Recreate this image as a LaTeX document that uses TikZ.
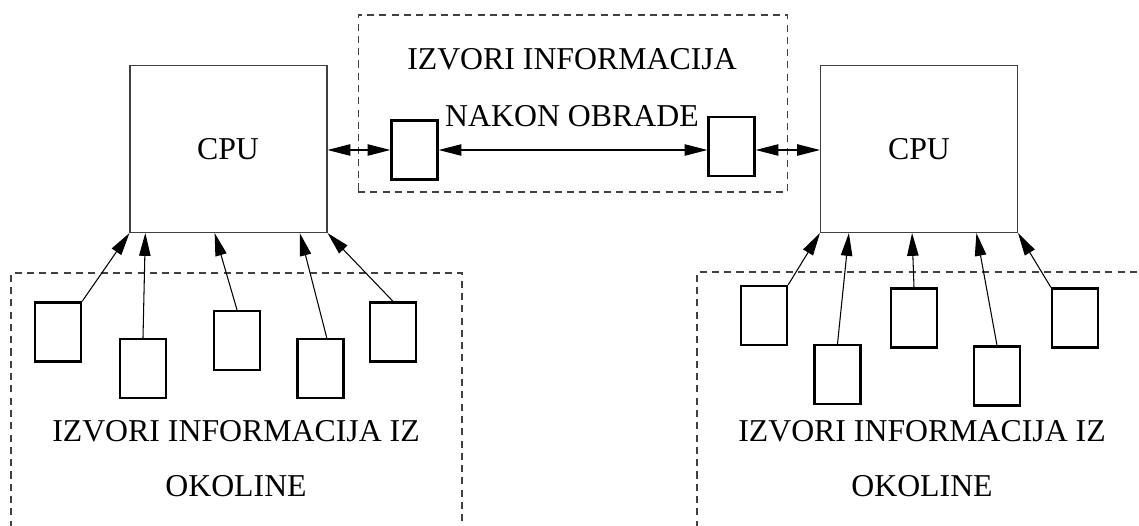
\documentclass[tikz,border=0pt]{standalone}
\usepackage{fontspec}
\setmainfont{Liberation Serif}
\usetikzlibrary{arrows.meta,calc}

\begin{document}
\begin{tikzpicture}[
  x=0.02cm, y=-0.02cm,
  cpunode/.style={rectangle, draw=black!75, line width=0.6pt, minimum width=3.94cm, minimum height=3.34cm},
  devnode/.style={rectangle, draw=black, line width=1.3pt, minimum width=0.92cm, minimum height=1.18cm, inner sep=0pt},
  framenode/.style={draw=black!75, line width=0.6pt, dash pattern=on 4pt off 3pt},
  txtnode/.style={font=\fontsize{18.1}{22}\selectfont, inner sep=0pt, anchor=base},
  arr/.style={-{Triangle[length=13pt,width=6.5pt]}, line width=0.6pt},
  darr/.style={{Triangle[length=13pt,width=6.5pt]}-{Triangle[length=13pt,width=6.5pt]}, line width=0.6pt},
]
\useasboundingbox (0,0) rectangle (1139,526);

% frames
\node[framenode, rectangle, minimum width=8.6cm, minimum height=3.54cm] (midframe) at (573,103.5) {};
\draw[framenode] (11,540) -- (11,273) -- (462,273) -- (462,540);
\draw[framenode] (697,540) -- (697,272) -- (1150,272);

% processors
\node[cpunode] (cpuL) at (228.5,149) {};
\node[txtnode, anchor=center] (cpuLtxt) at (228,149) {CPU};
\node[cpunode] (cpuR) at (919,149) {};
\node[txtnode, anchor=center] (cpuRtxt) at (919,149) {CPU};

% middle
\node[devnode] (m1) at (414.5,150) {};
\node[devnode] (m2) at (731.5,146.5) {};
\node[txtnode] (midtxt1) at (572,70) {IZVORI INFORMACIJA};
\node[txtnode] (midtxt2) at (572,127) {NAKON OBRADE};

% left sources
\node[devnode] (b1) at (58,332) {};
\node[devnode] (b2) at (143,368.5) {};
\node[devnode] (b3) at (237,340.5) {};
\node[devnode] (b4) at (320.5,368.5) {};
\node[devnode] (b5) at (393,332) {};
\node[txtnode] (lefttxt1) at (236,442) {IZVORI INFORMACIJA IZ};
\node[txtnode] (lefttxt2) at (236,497) {OKOLINE};

% right sources
\node[devnode] (r1) at (764,315.5) {};
\node[devnode] (r2) at (837.5,374.5) {};
\node[devnode] (r3) at (914,318) {};
\node[devnode] (r4) at (997,376) {};
\node[devnode] (r5) at (1075,318) {};
\node[txtnode] (righttxt1) at (922,442) {IZVORI INFORMACIJA IZ};
\node[txtnode] (righttxt2) at (922,497) {OKOLINE};

\draw[darr] (cpuL.east |- m1.west) -- (m1.west);
\draw[darr] (m1.east) -- (m1.east -| m2.west);
\draw[darr] (m1.east -| m2.east) -- (m1.east -| cpuR.west);

\draw[arr] (b1.north east) -- (cpuL.south west);
\draw[arr] (b2.north) -- ($(cpuL.south west)!0.08!(cpuL.south east)$);
\draw[arr] (b3.north) -- ($(cpuL.south west)!0.43!(cpuL.south east)$);
\draw[arr] ($(b4.north west)!0.63!(b4.north east)$) -- ($(cpuL.south west)!0.86!(cpuL.south east)$);
\draw[arr] (b5.north) -- (cpuL.south east);

\draw[arr] (r1.north east) -- (cpuR.south west);
\draw[arr] (r2.north) -- ($(cpuR.south west)!0.146!(cpuR.south east)$);
\draw[arr] (r3.north) -- ($(cpuR.south west)!0.465!(cpuR.south east)$);
\draw[arr] (r4.north) -- ($(cpuR.south west)!0.79!(cpuR.south east)$);
\draw[arr] (r5.north west) -- (cpuR.south east);

\end{tikzpicture}
\end{document}
